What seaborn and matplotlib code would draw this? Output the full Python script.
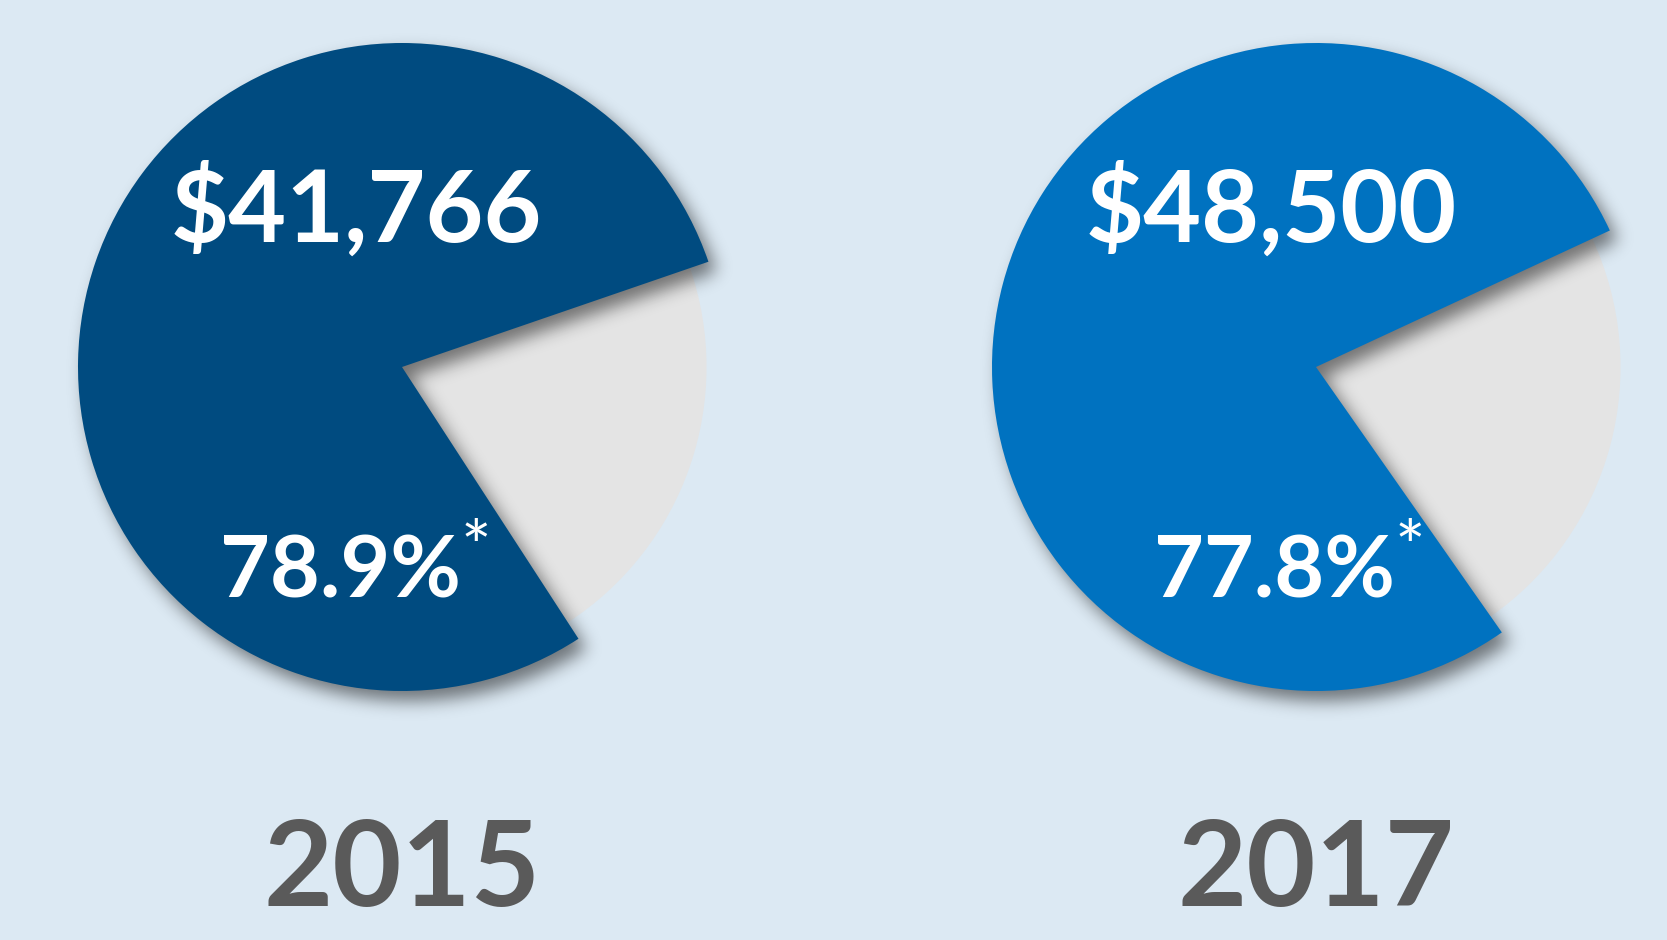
import matplotlib
matplotlib.use("Agg")
import numpy as np
import matplotlib.pyplot as plt
import seaborn as sns

# ---- data ----
years = ["2015", "2017"]
shares = [78.9, 77.8]              # percent
salaries = ["$41,766", "$48,500"]
share_labels = ["78.9%", "77.8%"]
slice_colors = ["#004b80", "#0072c0"]
rest_color = "#e4e4e4"
bg = "#dce9f3"

sns.set_theme(style="white")
plt.rcParams["font.family"] = ["Lato", "DejaVu Sans"]

W, H = 1667, 940
fig = plt.figure(figsize=(W / 100, H / 100), dpi=100, facecolor=bg)
ax = fig.add_axes([0, 0, 1, 1])
ax.set_facecolor(bg)

centers_x = [402, 1316]
cy = H - 367
R = 324
end_angles = [303, 305]  # lower edge of the coloured slice (degrees)

main_wedges = []
for i, cx in enumerate(centers_x):
    vals = [shares[i], 100 - shares[i]]
    start = end_angles[i] - 360 * shares[i] / 100
    wedges, _ = ax.pie(vals, colors=[slice_colors[i], rest_color], startangle=start,
                       center=(cx, cy), radius=R, counterclock=True,
                       wedgeprops=dict(linewidth=0))
    wedges[1].set_radius(R * 0.94)
    wedges[1].set_zorder(1)
    wedges[0].set_zorder(2)
    main_wedges.append(wedges[0])

# ---- soft drop shadow of the coloured slices ----
dx, dy, sigma, max_alpha = 8, -10, 8.5, 0.5
ys, xs = np.mgrid[0:H, 0:W].astype(float) + 0.5
mask = np.zeros((H, W))
for w in main_wedges:
    wcx, wcy = w.center
    sx, sy = xs - (wcx + dx), ys - (wcy + dy)
    dist = np.hypot(sx, sy)
    ang = np.degrees(np.arctan2(sy, sx))
    inside = (dist <= w.r) & (((ang - w.theta1) % 360) <= (w.theta2 - w.theta1))
    mask[inside] = 1.0
k = np.arange(-int(3 * sigma), int(3 * sigma) + 1)
kern = np.exp(-0.5 * (k / sigma) ** 2)
kern /= kern.sum()
blur = np.apply_along_axis(lambda v: np.convolve(v, kern, mode="same"), 1, mask)
blur = np.apply_along_axis(lambda v: np.convolve(v, kern, mode="same"), 0, blur)
shadow = np.zeros((H, W, 4))
shadow[..., 3] = np.clip(blur, 0, 1) * max_alpha
ax.imshow(shadow, extent=(0, W, 0, H), origin="lower", zorder=1.5, interpolation="bilinear")

# texts
sal_x = [356, 1271]
pct_x = [340, 1274]
for i in range(2):
    ax.text(sal_x[i], H - 211, salaries[i], color="white", fontsize=72, fontweight="bold",
            ha="center", va="center", zorder=5)
    ax.text(pct_x[i], H - 573, share_labels[i], color="white", fontsize=62, fontweight="bold",
            ha="center", va="center", zorder=5)
    ax.text(pct_x[i] + 136, H - 572, "*", color="white", fontsize=52, fontweight="normal",
            ha="center", va="baseline", zorder=5)
    ax.text(centers_x[i], H - 872, years[i], color="#5a5a5a", fontsize=86, fontweight="bold",
            ha="center", va="center", zorder=5)

ax.set_xlim(0, W)
ax.set_ylim(0, H)
ax.set_aspect("auto")
ax.axis("off")

fig.savefig("out.png", dpi=100, facecolor=bg)
